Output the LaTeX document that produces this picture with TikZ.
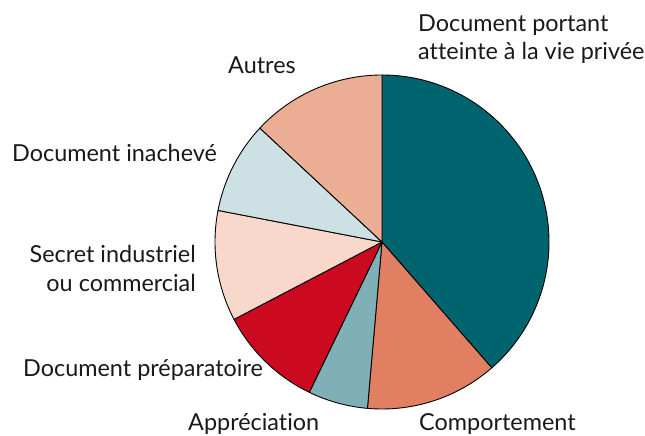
\documentclass[tikz,border=0pt]{standalone}
\usepackage{fontspec}
\setmainfont{Lato}[Ligatures={NoCommon}]
\definecolor{cteal}{HTML}{00646F}
\definecolor{ccomp}{HTML}{E07F62}
\definecolor{cappr}{HTML}{7FB0B8}
\definecolor{cprep}{HTML}{CC0A1F}
\definecolor{csecr}{HTML}{F7D8CB}
\definecolor{cinach}{HTML}{CDE0E4}
\definecolor{cautr}{HTML}{EBAE95}
\tikzset{
  slice/.style={draw=black, line width=0.9pt, line join=round},
  lbl/.style={font=\fontsize{23.4}{28}\selectfont, inner sep=0pt, text=black!90},
}
\newcommand{\pieslice}[3]{%
  \filldraw[slice, fill=#3] (c) -- ++(#1:167) arc[start angle=#1, end angle=#2, radius=167] -- cycle;}
\begin{document}
\begin{tikzpicture}[x=1pt,y=1pt]
\useasboundingbox (0,0) rectangle (645,436);
\coordinate (c) at (382,194);
\pieslice{90}{-48.9}{cteal}
\pieslice{-48.9}{-95}{ccomp}
\pieslice{-95}{-115.8}{cappr}
\pieslice{-115.8}{-152.4}{cprep}
\pieslice{-152.4}{-190.9}{csecr}
\pieslice{-190.9}{-223}{cinach}
\pieslice{-223}{-270}{cautr}
\node[lbl, anchor=base west, align=left] (lport) at (418,404) {Document portant};
\node[lbl, anchor=base west, align=left] (lport2) at (418,376) {atteinte à la vie privée};
\node[lbl, anchor=base west] (lautr) at (228,362) {Autres};
\node[lbl, anchor=base west] (linach) at (12,274) {Document inachevé};
\node[lbl, anchor=base east] (lsecr) at (196,173) {Secret industriel};
\node[lbl, anchor=base east] (lsecr2) at (196,144.5) {ou commercial};
\node[lbl, anchor=base west] (lprep) at (23,59) {Document préparatoire};
\node[lbl, anchor=base west] (lappr) at (188,5) {Appréciation};
\node[lbl, anchor=base west] (lcomp) at (419,5) {Comportement};
\end{tikzpicture}
\end{document}
